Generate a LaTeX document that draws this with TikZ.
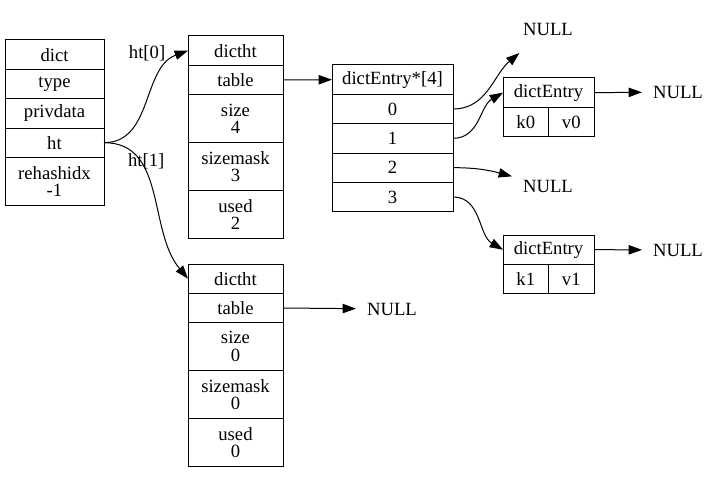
\documentclass[tikz,border=0pt]{standalone}
\usepackage{fontspec}
\setmainfont{Liberation Serif}
\usetikzlibrary{arrows.meta,positioning}
\tikzset{
  field/.style={draw, line width=0.75pt, inner sep=0pt, outer sep=0pt, align=center,
    minimum width=#1, minimum height=22pt, font=\fontsize{14}{13.2}\selectfont},
  tallfield/.style={field=#1, minimum height=36pt},
  nullnode/.style={inner sep=0pt, outer sep=0pt, minimum width=54pt, minimum height=36pt,
    font=\fontsize{14}{13.2}\selectfont},
  ptr/.style={line width=0.75pt, -{Triangle[length=10pt,width=7pt]}},
  edgelabel/.style={inner sep=1pt, font=\fontsize{14}{13.2}\selectfont}
}

\begin{document}
\begin{tikzpicture}[x=0.75pt, y=0.75pt]
  \useasboundingbox (0,0) rectangle (721,-485);

  % dict
  \node[field=74.25pt, anchor=north] (dict) at (54.5,-40) {dict};
  \node[field=74.25pt, below=0pt of dict] (dict-type) {type};
  \node[field=74.25pt, below=0pt of dict-type] (dict-priv) {privdata};
  \node[field=74.25pt, below=0pt of dict-priv] (dict-ht) {ht};
  \node[tallfield=74.25pt, below=0pt of dict-ht] (dict-idx) {rehashidx\\ -1};

  % ht[0]
  \node[field=71.25pt, anchor=north] (ht0) at (235.5,-36) {dictht};
  \node[field=71.25pt, below=0pt of ht0] (ht0-table) {table};
  \node[tallfield=71.25pt, below=0pt of ht0-table] (ht0-size) {size\\ 4};
  \node[tallfield=71.25pt, below=0pt of ht0-size] (ht0-mask) {sizemask\\ 3};
  \node[tallfield=71.25pt, below=0pt of ht0-mask] (ht0-used) {used\\ 2};

  % ht[1]
  \node[field=71.25pt, anchor=north] (ht1) at (235.5,-264) {dictht};
  \node[field=71.25pt, below=0pt of ht1] (ht1-table) {table};
  \node[tallfield=71.25pt, below=0pt of ht1-table] (ht1-size) {size\\ 0};
  \node[tallfield=71.25pt, below=0pt of ht1-size] (ht1-mask) {sizemask\\ 0};
  \node[tallfield=71.25pt, below=0pt of ht1-mask] (ht1-used) {used\\ 0};

  % table array
  \node[field=90.75pt, anchor=north] (arr) at (392.5,-65) {dictEntry*[4]};
  \node[field=90.75pt, below=0pt of arr] (arr-0) {0};
  \node[field=90.75pt, below=0pt of arr-0] (arr-1) {1};
  \node[field=90.75pt, below=0pt of arr-1] (arr-2) {2};
  \node[field=90.75pt, below=0pt of arr-2] (arr-3) {3};

  % entries
  \node[field=68.25pt, anchor=north] (de0) at (548.5,-78) {dictEntry};
  \node[field=34.125pt, anchor=north west] (de0-k) at (de0.south west) {k0};
  \node[field=34.125pt, right=0pt of de0-k] (de0-v) {v0};

  \node[field=68.25pt, anchor=north] (de1) at (548.5,-235) {dictEntry};
  \node[field=34.125pt, anchor=north west] (de1-k) at (de1.south west) {k1};
  \node[field=34.125pt, right=0pt of de1-k] (de1-v) {v1};

  % NULLs
  \node[nullnode] (null0) at (548,-29) {NULL};
  \node[nullnode] (null2) at (548,-186) {NULL};
  \node[nullnode] (null-de0) at (678,-92) {NULL};
  \node[nullnode] (null-de1) at (678,-250) {NULL};
  \node[nullnode] (null-ht1) at (392,-309) {NULL};

  % pointers
  \draw[ptr] (dict-ht.east) to[out=0, in=200]
    node[edgelabel, pos=0.88, anchor=east, xshift=-5pt, yshift=4pt] {ht[0]} (ht0.west);
  \draw[ptr] (dict-ht.east) to[out=0, in=130]
    node[edgelabel, pos=0.2, anchor=north west, xshift=-5pt, yshift=0pt] {ht[1]} (ht1.west);
  \draw[ptr] (ht0-table.east) -- (arr.west);
  \draw[ptr] (ht1-table.east) -- (null-ht1);
  \draw[ptr] (arr-0.east) to[out=0, in=220] (null0);
  \draw[ptr] (arr-1.east) to[out=0, in=210] (de0.west);
  \draw[ptr] (arr-2.east) to[out=0, in=165] (null2);
  \draw[ptr] (arr-3.east) to[out=0, in=150] (de1.west);
  \draw[ptr] (de0.east) -- (null-de0);
  \draw[ptr] (de1.east) -- (null-de1);
\end{tikzpicture}
\end{document}
